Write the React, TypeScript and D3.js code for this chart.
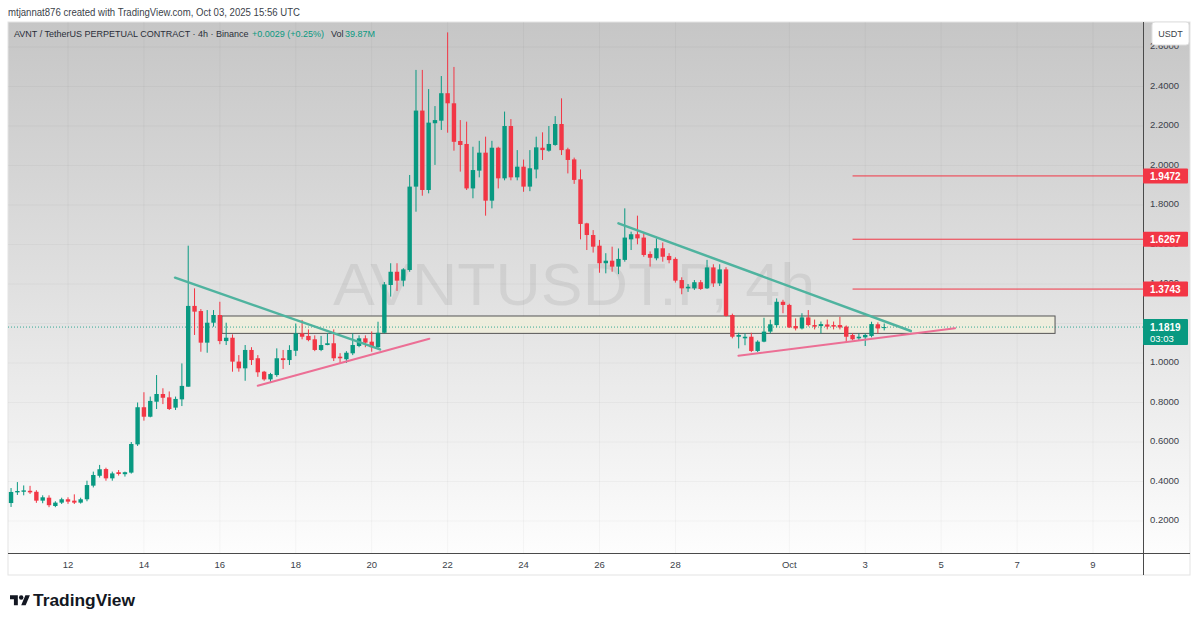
import React from "react";
import * as d3 from "d3";

// ---- data ----
const firstBar = Date.UTC(2025, 8, 10, 12);
const barMs = 4 * 3600 * 1000;

const opens = [0.291,0.345,0.348,0.353,0.348,0.303,0.318,0.276,0.293,0.310,0.303,0.293,0.310,0.379,0.429,0.463,0.416,0.447,0.437,0.445,0.588,0.776,0.728,0.804,0.843,0.826,0.774,0.816,0.880,1.289,1.263,1.103,1.204,1.243,1.111,1.128,1.007,0.973,1.066,1.024,0.956,0.917,0.939,1.024,1.015,1.062,1.150,1.137,1.120,1.066,1.091,1.100,1.032,1.019,1.049,1.086,1.125,1.108,1.080,1.153,1.395,1.462,1.417,1.471,1.893,2.278,1.876,2.214,2.227,2.366,2.315,2.124,2.109,1.884,1.974,2.065,1.822,2.090,1.935,2.200,1.940,1.994,1.893,1.980,2.090,2.075,2.104,2.210,2.082,2.031,1.930,1.707,1.648,1.594,1.505,1.518,1.488,1.522,1.626,1.652,1.635,1.552,1.530,1.581,1.542,1.527,1.420,1.378,1.378,1.409,1.378,1.484,1.403,1.474,1.243,1.133,1.125,1.133,1.061,1.108,1.159,1.192,1.310,1.294,1.187,1.175,1.231,1.192,1.187,1.195,1.192,1.192,1.184,1.142,1.125,1.130,1.137,1.196,1.179];
const highs = [0.367,0.397,0.380,0.378,0.356,0.330,0.330,0.300,0.318,0.320,0.335,0.318,0.404,0.450,0.484,0.470,0.450,0.458,0.450,0.600,0.800,0.852,0.830,0.939,0.872,0.856,0.830,0.998,1.594,1.378,1.273,1.268,1.268,1.310,1.204,1.145,1.040,1.091,1.080,1.040,0.960,0.950,1.074,1.066,1.090,1.200,1.218,1.170,1.140,1.137,1.150,1.170,1.050,1.060,1.150,1.140,1.140,1.160,1.209,1.410,1.505,1.505,1.480,1.952,2.484,2.484,2.387,2.301,2.453,2.674,2.499,2.230,2.222,2.095,2.125,2.146,2.125,2.095,2.273,2.235,2.078,2.030,2.078,2.146,2.168,2.200,2.250,2.340,2.090,2.040,1.980,1.710,1.673,1.623,1.556,1.589,1.580,1.783,1.665,1.746,1.657,1.565,1.631,1.610,1.556,1.535,1.434,1.400,1.420,1.420,1.522,1.500,1.500,1.485,1.250,1.153,1.150,1.153,1.115,1.229,1.219,1.327,1.320,1.300,1.226,1.252,1.268,1.220,1.210,1.220,1.210,1.234,1.190,1.150,1.150,1.150,1.209,1.206,1.200];
const lows = [0.271,0.332,0.330,0.337,0.292,0.290,0.270,0.270,0.286,0.287,0.286,0.288,0.300,0.370,0.420,0.404,0.404,0.430,0.425,0.440,0.580,0.708,0.725,0.767,0.792,0.762,0.762,0.782,0.880,1.142,1.057,1.052,1.184,1.095,1.091,0.956,0.956,0.910,0.990,0.930,0.910,0.900,0.930,0.970,0.990,1.035,1.120,1.110,1.060,1.060,1.090,1.010,0.998,1.000,1.040,1.080,1.080,1.057,1.070,1.150,1.336,1.365,1.388,1.462,1.766,1.847,1.859,2.003,2.180,2.166,2.075,1.969,1.876,1.834,1.940,1.746,1.783,1.884,1.925,1.925,1.925,1.867,1.870,1.935,2.028,2.070,2.100,2.053,1.960,1.907,1.626,1.572,1.559,1.457,1.454,1.462,1.450,1.513,1.572,1.601,1.538,1.488,1.520,1.513,1.505,1.407,1.348,1.360,1.370,1.370,1.375,1.385,1.390,1.235,1.125,1.074,1.090,1.055,1.055,1.105,1.150,1.180,1.252,1.177,1.165,1.170,1.185,1.170,1.150,1.170,1.170,1.170,1.103,1.115,1.115,1.086,1.130,1.150,1.165];
const closes = [0.347,0.352,0.355,0.345,0.303,0.320,0.280,0.293,0.310,0.298,0.293,0.310,0.382,0.433,0.462,0.416,0.441,0.438,0.447,0.590,0.776,0.728,0.808,0.843,0.824,0.767,0.818,0.884,1.289,1.260,1.103,1.204,1.243,1.111,1.128,1.007,0.973,1.066,1.015,0.953,0.917,0.944,1.024,1.015,1.066,1.150,1.133,1.116,1.066,1.091,1.100,1.024,1.024,1.052,1.091,1.125,1.103,1.080,1.153,1.398,1.462,1.417,1.474,1.893,2.278,1.876,2.217,2.230,2.366,2.315,2.120,2.104,1.884,1.977,2.065,1.822,2.090,1.935,2.200,1.940,1.994,1.893,1.986,2.092,2.078,2.109,2.210,2.078,2.028,1.927,1.704,1.648,1.589,1.505,1.518,1.488,1.527,1.635,1.652,1.631,1.547,1.533,1.581,1.538,1.521,1.417,1.378,1.386,1.409,1.375,1.484,1.403,1.474,1.238,1.133,1.142,1.133,1.061,1.108,1.159,1.196,1.310,1.294,1.180,1.175,1.231,1.192,1.184,1.197,1.184,1.184,1.180,1.133,1.120,1.133,1.142,1.197,1.175,1.1819];

const priceTicks = [0.2, 0.4, 0.6, 0.8, 1.0, 1.2, 1.4, 1.6, 1.8, 2.0, 2.2, 2.4, 2.6];
const timeTickDates = ["2025-09-12","2025-09-14","2025-09-16","2025-09-18","2025-09-20","2025-09-22","2025-09-24","2025-09-26","2025-09-28","2025-10-01","2025-10-03","2025-10-05","2025-10-07","2025-10-09"];
const timeTickLabels = ["12","14","16","18","20","22","24","26","28","Oct","3","5","7","9"];

const levelPrices = [1.9472, 1.6267, 1.3743];
const levelStart = "2025-10-02T16:00Z";
const lastPrice = 1.1819;
const countdown = "03:03";

const zoneTimes = ["2025-09-16T01:20Z", "2025-10-08T00:00Z"];
const zonePrices = [1.238, 1.150];

// resistance (descending) and support (ascending) lines: [t1, p1, t2, p2]
const resistanceLines: [string, number, string, number][] = [
  ["2025-09-14T19:40Z", 1.432, "2025-09-20T05:15Z", 1.069],
  ["2025-09-26T12:00Z", 1.707, "2025-10-04T04:50Z", 1.162],
];
const supportLines: [string, number, string, number][] = [
  ["2025-09-16T23:56Z", 0.885, "2025-09-21T12:26Z", 1.123],
  ["2025-09-29T15:50Z", 1.037, "2025-10-05T08:50Z", 1.176],
];

const GREEN = "#089981";
const RED = "#f23645";
const FONT = "'Liberation Sans', Arial, sans-serif";

export default function App() {
  const W = 1200, H = 623;
  const left = 8, right = 1143, top = 22, bottom = 553, outerRight = 1190, outerBottom = 575;

  const x = d3.scaleUtc()
    .domain([new Date(Date.UTC(2025, 8, 12)), new Date(Date.UTC(2025, 9, 9))])
    .range([68, 1093]);
  const y = d3.scaleLinear().domain([0.2, 2.4]).range([521, 86.5]);

  const bars = opens.map((o, i) => ({
    t: new Date(firstBar + i * barMs), o, h: highs[i], l: lows[i], c: closes[i],
  }));
  const bodyW = 4.4;

  const lastY = y(lastPrice);

  return (
    <svg width={W} height={H} style={{ position: "absolute", left: 0, top: 0, background: "#fff" }} fontFamily={FONT}>
      <defs>
        <linearGradient id="bg" x1="0" y1={top} x2="0" y2={bottom} gradientUnits="userSpaceOnUse">
          <stop offset="0" stopColor="#c6c6c6" />
          <stop offset="0.5" stopColor="#e0e0e0" />
          <stop offset="1" stopColor="#fdfdfd" />
        </linearGradient>
        <clipPath id="plot"><rect x={left} y={top} width={right - left} height={bottom - top} /></clipPath>
      </defs>
      <rect x={0} y={0} width={W} height={H} fill="#fff" />
      <text x={8} y={16} fontSize={10} fill="#3b3f4a" textLength={292} lengthAdjust="spacingAndGlyphs">mtjannat876 created with TradingView.com, Oct 03, 2025 15:56 UTC</text>

      {/* chart backgrounds */}
      <rect x={left} y={top} width={outerRight - left} height={bottom - top} fill="url(#bg)" />
      <rect x={left} y={bottom} width={outerRight - left} height={outerBottom - bottom} fill="#ffffff" />
      <rect x={left} y={top} width={outerRight - left} height={outerBottom - top} fill="none" stroke="#e3e3e3" />

      <g clipPath="url(#plot)">
        {/* grid */}
        {timeTickDates.map((d) => (
          <line key={d} x1={x(new Date(d + "T00:00Z"))} x2={x(new Date(d + "T00:00Z"))} y1={top} y2={bottom} stroke="rgba(0,0,0,0.035)" />
        ))}
        {priceTicks.map((p) => (
          <line key={p} x1={left} x2={right} y1={y(p)} y2={y(p)} stroke="rgba(0,0,0,0.03)" />
        ))}
        {/* watermark */}
        <text x={333} y={305} fontSize={60} fill="rgba(0,0,0,0.065)" textLength={482} lengthAdjust="spacingAndGlyphs">AVNTUSDT.P, 4h</text>

        {/* zone */}
        <rect x={x(new Date(zoneTimes[0]))} y={y(zonePrices[0])}
          width={x(new Date(zoneTimes[1])) - x(new Date(zoneTimes[0]))}
          height={y(zonePrices[1]) - y(zonePrices[0])}
          fill="#f0eedc" fillOpacity={0.85} stroke="#555" strokeWidth={1} />

        {/* level lines */}
        {levelPrices.map((p) => (
          <line key={p} x1={x(new Date(levelStart))} x2={right} y1={y(p)} y2={y(p)} stroke={RED} strokeWidth={1} />
        ))}

        {/* last price dotted */}
        <line x1={left} x2={right} y1={lastY} y2={lastY} stroke={GREEN} strokeOpacity={0.8} strokeDasharray="1 2" />

        {/* candles */}
        {bars.map((b, i) => {
          const cx = x(b.t);
          const up = b.c >= b.o;
          const col = up ? GREEN : RED;
          const yt = y(Math.max(b.o, b.c));
          const yb = y(Math.min(b.o, b.c));
          return (
            <g key={i}>
              <line x1={cx} x2={cx} y1={y(b.h)} y2={y(b.l)} stroke={col} strokeWidth={1} />
              <rect x={cx - bodyW / 2} y={yt} width={bodyW} height={Math.max(1, yb - yt)} fill={col} />
            </g>
          );
        })}

        {/* trend lines */}
        {resistanceLines.map((l, i) => (
          <line key={"r" + i} x1={x(new Date(l[0]))} y1={y(l[1])} x2={x(new Date(l[2]))} y2={y(l[3])}
            stroke="#4fb39f" strokeWidth={2.5} strokeLinecap="round" />
        ))}
        {supportLines.map((l, i) => (
          <line key={"s" + i} x1={x(new Date(l[0]))} y1={y(l[1])} x2={x(new Date(l[2]))} y2={y(l[3])}
            stroke="#ec6f95" strokeWidth={2} strokeLinecap="round" />
        ))}
      </g>

      {/* legend */}
      <text x={14} y={36.5} fontSize={9} fill="#2a2e39">AVNT / TetherUS PERPETUAL CONTRACT · 4h · Binance</text>
      <text x={252} y={36.5} fontSize={9} fill={GREEN}>+0.0029 (+0.25%)</text>
      <text x={331} y={36.5} fontSize={9} fill="#2a2e39">Vol</text>
      <text x={345} y={36.5} fontSize={9} fill={GREEN}>39.87M</text>

      {/* axes lines */}
      <line x1={right + 0.5} x2={right + 0.5} y1={top} y2={outerBottom} stroke="#4a4a4a" />
      <line x1={left} x2={outerRight} y1={bottom + 0.5} y2={bottom + 0.5} stroke="#4a4a4a" />

      {/* price labels */}
      {priceTicks.map((p) => (
        <text key={p} x={1150} y={y(p) + 2} fontSize={9.5} fill="#3b3f4a">{p.toFixed(4)}</text>
      ))}
      {/* USDT box */}
      <rect x={1152} y={22} width={37} height={23} rx={3} fill="#ffffff" stroke="#e0e0e0" />
      <text x={1170.5} y={37} fontSize={9} fill="#3b3f4a" textAnchor="middle">USDT</text>

      {levelPrices.map((p) => (
        <g key={p}>
          <rect x={right} y={y(p) - 7.5} width={45} height={15} rx={1} fill={RED} />
          <text x={1150} y={y(p) + 4} fontSize={10} fontWeight="bold" fill="#fff">{p.toFixed(4)}</text>
        </g>
      ))}
      <rect x={right} y={lastY - 8} width={45} height={26} rx={1} fill={GREEN} />
      <text x={1150} y={lastY + 4} fontSize={10} fontWeight="bold" fill="#fff">{lastPrice.toFixed(4)}</text>
      <text x={1150} y={lastY + 15} fontSize={9.5} fill="#fff">{countdown}</text>

      {/* time labels */}
      {timeTickDates.map((d, i) => (
        <text key={d} x={x(new Date(d + "T00:00Z"))} y={568} fontSize={9.5} fill="#3b3f4a" textAnchor="middle">{timeTickLabels[i]}</text>
      ))}

      {/* TradingView logo */}
      <g transform="translate(10,593) scale(0.56)" fill="#131722">
        <path d="M14 22H7V11H0V4h14v18z" />
        <circle cx={20} cy={8} r={4} />
        <path d="M28 22h-8l7.5-18h8L28 22z" />
      </g>
      <text x={33} y={606} fontSize={17} fontWeight="bold" fill="#131722" textLength={102} lengthAdjust="spacingAndGlyphs">TradingView</text>
    </svg>
  );
}
